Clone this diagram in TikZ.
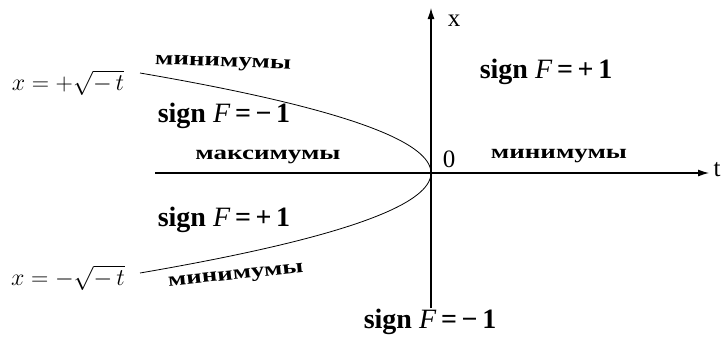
\documentclass[tikz,border=0pt]{standalone}
\usepackage{fix-cm}
\usepackage{fontspec}
\setmainfont{Liberation Serif}
\newfontfamily\widefont[FakeStretch=1.35]{Liberation Serif}
\usetikzlibrary{arrows.meta}

\newcommand\signF[1]{\textbf{sign} \textit{F}\,\textbf{=\,#1}}

\begin{document}
\begin{tikzpicture}[
  x=1pt, y=-1pt,
  axis/.style={line width=1.1pt, -{Latex[length=11pt,width=7pt]}},
  branch/.style={line width=0.8pt},
  signlab/.style={font=\fontsize{28}{32}\selectfont, inner sep=0pt},
  extlab/.style={font=\widefont\bfseries\fontsize{20}{24}\selectfont, inner sep=0pt},
  rootlab/.style={font=\fontsize{24}{28}\selectfont, inner sep=0pt},
  axlab/.style={font=\fontsize{25}{29}\selectfont, inner sep=0pt},
]
\useasboundingbox (0,0) rectangle (723,338);

% axes
\coordinate (O) at (431,173);
\coordinate (tstart) at (155,173);
\coordinate (tend) at (709,173);
\coordinate (xstart) at (431,308);
\coordinate (xend) at (431,8);
\draw[axis] (tstart) -- (tend);
\draw[axis] (xstart) -- (xend);
\node[axlab] (tlab) at (717,170) {t};
\node[axlab] (xlab) at (454,21) {x};
\node[axlab] (zero) at (449,159) {0};

% parabola t = -x^2
\draw[branch] plot[domain=-100:100, samples=80, smooth, variable=\s]
  ({431-0.0291*\s*\s}, {173+\s});

% branch labels
\node[rootlab] (xplus) at (68,83) {$x = +\sqrt{-\,t}$};
\node[rootlab] (xminus) at (68,278) {$x = -\sqrt{-\,t}$};

% extrema
\node[extlab, rotate=-2] (mintop) at (223,64) {минимумы};
\node[extlab, rotate=6] (minbot) at (236,277) {минимумы};
\node[extlab] (maxleft) at (268,157) {максимумы};
\node[extlab] (minright) at (559,156) {минимумы};

% signs of F
\node[signlab] (signtl) at (224,116) {\signF{−\,1}};
\node[signlab] (signtr) at (546,72) {\signF{+\,1}};
\node[signlab] (signbl) at (224,220) {\signF{+\,1}};
\node[signlab] (signb) at (430,322) {\signF{−\,1}};
\end{tikzpicture}
\end{document}
